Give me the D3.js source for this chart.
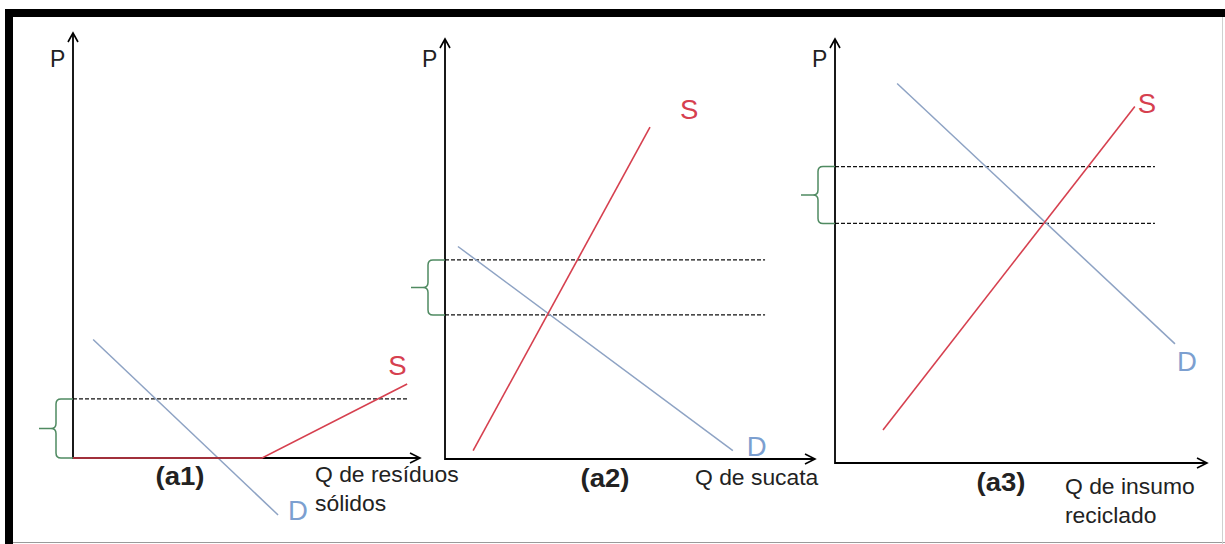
<!DOCTYPE html>
<html>
<head>
<meta charset="utf-8">
<script src="https://cdn.jsdelivr.net/npm/d3@7"></script>
<style>
  body { margin: 0; background: #fff; }
  text { font-family: "Liberation Sans", Arial, sans-serif; }
</style>
</head>
<body>
<div id="chart"></div>
<script>
// values, in axis units (Q and P both run 0..10 on each panel)
const panelNames = ["(a1)", "(a2)", "(a3)"];
const qTitles = [["Q de resíduos", "sólidos"], ["Q de sucata"], ["Q de insumo", "reciclado"]];
const supply = [
  [[0, 0], [5.45, 0], [9.63, 1.74]],
  [[0.76, 0.2], [5.54, 7.9]],
  [[1.29, 0.78], [8.06, 8.41]]
];
const demand = [
  [[0.58, 2.79], [5.91, -1.34]],
  [[0.35, 5.06], [7.78, 0.2]],
  [[1.67, 8.95], [9.14, 2.81]]
];
const priceLines = [[1.39], [4.74, 3.43], [6.99, 5.65]];
const priceLineEnd = [9.65, 8.65, 8.6];
const braces = [[0, 1.39], [3.43, 4.74], [5.65, 6.99]];

// layout
const W = 1225, H = 544;
const frames = [
  {x0: 73, x1: 420, y0: 458, y1: 33},
  {x0: 445, x1: 815, y0: 459, y1: 39},
  {x0: 835, x1: 1207, y0: 463, y1: 39}
];
const sLab = [[-19, -9], [30, -8], [3, 7]];
const dLab = [[10, 5], [14, 5], [2, 27]];
const nameX = [180, 605, 1001];
const nameY = [485, 487, 491];
const qX = [315, 695, 1065];
const qY = [482, 485, 494];

const red = "#d6404f", blue = "#8ea3c4", blueTxt = "#7c9fd0", green = "#4f8a61";

const svg = d3.select("#chart").append("svg")
  .attr("width", W).attr("height", H);

svg.append("rect").attr("width", W).attr("height", H).attr("fill", "#fff");

// frame around the figure
svg.append("rect").attr("x", 5).attr("y", 9).attr("width", W - 5).attr("height", 8).attr("fill", "#000");
svg.append("rect").attr("x", 5).attr("y", 9).attr("width", 8).attr("height", H - 9).attr("fill", "#000");
svg.append("line").attr("x1", 13).attr("x2", W).attr("y1", 542.5).attr("y2", 542.5)
  .attr("stroke", "#9a9a9a").attr("stroke-width", 1);
svg.append("line").attr("x1", 1222.5).attr("x2", 1222.5).attr("y1", 17).attr("y2", H)
  .attr("stroke", "#d0d0d0").attr("stroke-width", 1);

function stretched(g, x, y, txt, size, sx, opts = {}) {
  return g.append("text")
    .attr("transform", `translate(${x},${y}) scale(${sx},1)`)
    .attr("font-size", size)
    .attr("font-weight", opts.bold ? "bold" : "normal")
    .attr("text-anchor", opts.anchor || "start")
    .attr("fill", opts.fill || "#222")
    .text(txt);
}

frames.forEach((f, i) => {
  const g = svg.append("g");
  const x = d3.scaleLinear().domain([0, 10]).range([f.x0, f.x1]);
  const y = d3.scaleLinear().domain([0, 10]).range([f.y0, f.y1]);
  const line = d3.line().x(d => x(d[0])).y(d => y(d[1]));

  // dashed price lines
  priceLines[i].forEach(p => {
    g.append("line")
      .attr("x1", x(0)).attr("x2", x(priceLineEnd[i]))
      .attr("y1", y(p)).attr("y2", y(p))
      .attr("stroke", "#111").attr("stroke-width", 1.3)
      .attr("stroke-dasharray", "4,2");
  });

  // demand curve
  g.append("path").attr("d", line(demand[i]))
    .attr("fill", "none").attr("stroke", blue).attr("stroke-width", 1.5);

  // axes
  g.append("line").attr("x1", x(0)).attr("x2", x(0)).attr("y1", y(0) + 1).attr("y2", y(10))
    .attr("stroke", "#000").attr("stroke-width", 1.8);
  g.append("line").attr("x1", x(0)).attr("x2", x(10)).attr("y1", y(0)).attr("y2", y(0))
    .attr("stroke", "#000").attr("stroke-width", 1.8);
  g.append("path")
    .attr("d", `M${x(0) - 5},${y(10) + 9} L${x(0)},${y(10)} L${x(0) + 5},${y(10) + 9}`)
    .attr("fill", "none").attr("stroke", "#000").attr("stroke-width", 1.6);
  g.append("path")
    .attr("d", `M${x(10) - 10},${y(0) - 5} L${x(10)},${y(0)} L${x(10) - 10},${y(0) + 5}`)
    .attr("fill", "none").attr("stroke", "#000").attr("stroke-width", 1.6);

  // supply curve
  g.append("path").attr("d", line(supply[i]))
    .attr("fill", "none").attr("stroke", red).attr("stroke-width", 1.6);

  // curly brace left of the axis
  const yt = y(braces[i][1]), yb = y(braces[i][0]), ym = (yt + yb) / 2;
  const bx = x(0) - 17, r = 5;
  g.append("path")
    .attr("d", `M${x(0)},${yt} L${bx + r},${yt} Q${bx},${yt} ${bx},${yt + r}` +
               ` L${bx},${ym - r} Q${bx},${ym} ${bx - r},${ym} L${bx - 17},${ym}` +
               ` M${bx - r},${ym} Q${bx},${ym} ${bx},${ym + r}` +
               ` L${bx},${yb - r} Q${bx},${yb} ${bx + r},${yb} L${x(0)},${yb}`)
    .attr("fill", "none").attr("stroke", green).attr("stroke-width", 1.5);

  // labels
  const sEnd = supply[i][supply[i].length - 1];
  const dEnd = demand[i][demand[i].length - 1];
  stretched(g, x(sEnd[0]) + sLab[i][0], y(sEnd[1]) + sLab[i][1], "S", 27, 1.02, {fill: red});
  stretched(g, x(dEnd[0]) + dLab[i][0], y(dEnd[1]) + dLab[i][1], "D", 27, 1.02, {fill: blueTxt});
  stretched(g, x(0) - 23, 67, "P", 23, 1);
  stretched(g, nameX[i], nameY[i], panelNames[i], 25, 1.1, {bold: true, anchor: "middle"});
  qTitles[i].forEach((t, k) => {
    stretched(g, qX[i], qY[i] + k * 29, t, 22, 1.04);
  });
});
</script>
</body>
</html>
